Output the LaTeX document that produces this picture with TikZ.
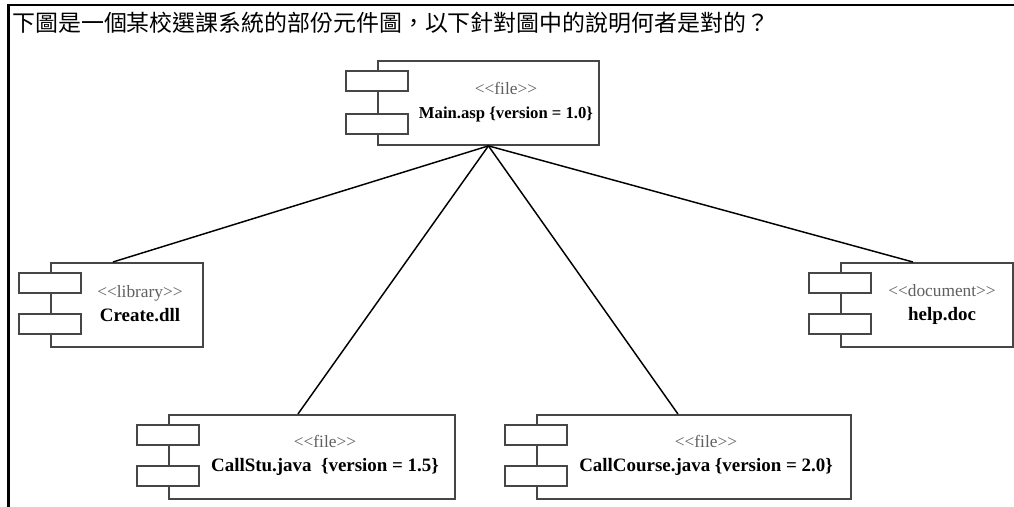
\documentclass[tikz,border=0pt]{standalone}
\usepackage{fontspec}
\setmainfont{Liberation Serif}
\newfontfamily\cjk{Noto Sans CJK TC}
\usepackage{tikz}

\definecolor{boxgray}{RGB}{70,70,70}
\definecolor{stereogray}{RGB}{95,95,95}
\newcommand{\stereo}[1]{{\color{stereogray}\fontsize{13pt}{18pt}\selectfont <\kern0pt<#1>\kern0pt>}}

\begin{document}
\begin{tikzpicture}[x=0.75pt,y=0.75pt,yscale=-1,xscale=1,
    comp/.style={draw=boxgray, line width=1.4pt, anchor=north west, minimum height=63pt, inner sep=0pt},
    comptab/.style={draw=boxgray, line width=1.4pt, fill=white, minimum width=46.5pt, minimum height=15pt, inner sep=0pt},
    lbl/.style={align=center, inner sep=0.75pt, font=\fontsize{14.2pt}{18pt}\selectfont},
    conn/.style={line width=1.1pt}]
        \useasboundingbox (0,0) rectangle (1014,507);

        %Frame
        \draw [line width=1.9pt] (8.5,507) -- (8.5,5) -- (1014,5) ;

        % Text Node
        \draw (11,23) node [anchor=west][inner sep=0.75pt] (title) {\cjk\fontsize{17.2pt}{20pt}\selectfont 下圖是一個某校選課系統的部份元件圖，以下針對圖中的說明何者是對的？};

        %Shape: Component [id:main]
        \draw (377,60) node [comp, minimum width=165.75pt] (main) {};
        \draw (377,81) node [comptab] (maintab1) {};
        \draw (377,124) node [comptab] (maintab2) {};
        % Text Node
        \draw (506,102) node [lbl, font=\fontsize{12.5pt}{18pt}\selectfont] (mainlbl) {\stereo{file}\\ \textbf{Main.asp \{version = 1.0\}}};

        %Shape: Component [id:create]
        \draw (50,262) node [comp, minimum width=114pt] (create) {};
        \draw (50,283) node [comptab] (createtab1) {};
        \draw (50,324) node [comptab] (createtab2) {};
        % Text Node
        \draw (140,304) node [lbl] (createlbl) {\stereo{library}\\ \textbf{Create.dll}};

        %Shape: Component [id:help]
        \draw (840,262) node [comp, minimum width=129pt] (help) {};
        \draw (840,283) node [comptab] (helptab1) {};
        \draw (840,324) node [comptab] (helptab2) {};
        % Text Node
        \draw (942,304) node [lbl] (helplbl) {\stereo{document}\\ \textbf{help.doc}};

        %Shape: Component [id:callstu]
        \draw (168,414) node [comp, minimum width=214.5pt] (callstu) {};
        \draw (168,435) node [comptab] (callstutab1) {};
        \draw (168,476) node [comptab] (callstutab2) {};
        % Text Node
        \draw (325,455) node [lbl] (callstulbl) {\stereo{file}\\ \textbf{CallStu.java \ \{version = 1.5\}}};

        %Shape: Component [id:callcourse]
        \draw (536,414) node [comp, minimum width=235.5pt] (callcourse) {};
        \draw (536,435) node [comptab] (callcoursetab1) {};
        \draw (536,476) node [comptab] (callcoursetab2) {};
        % Text Node
        \draw (706,455) node [lbl] (callcourselbl) {\stereo{file}\\ \textbf{CallCourse.java \{version = 2.0\}}};

        %Straight Lines
        \draw [conn] (main.south) -- ([xshift=-10.5pt]create.north) ;
        \draw [conn] (main.south) -- ([xshift=-10.5pt]help.north) ;
        \draw [conn] (main.south) -- ([xshift=-10.5pt]callstu.north) ;
        \draw [conn] (main.south) -- ([xshift=-12pt]callcourse.north) ;

\end{tikzpicture}
\end{document}
